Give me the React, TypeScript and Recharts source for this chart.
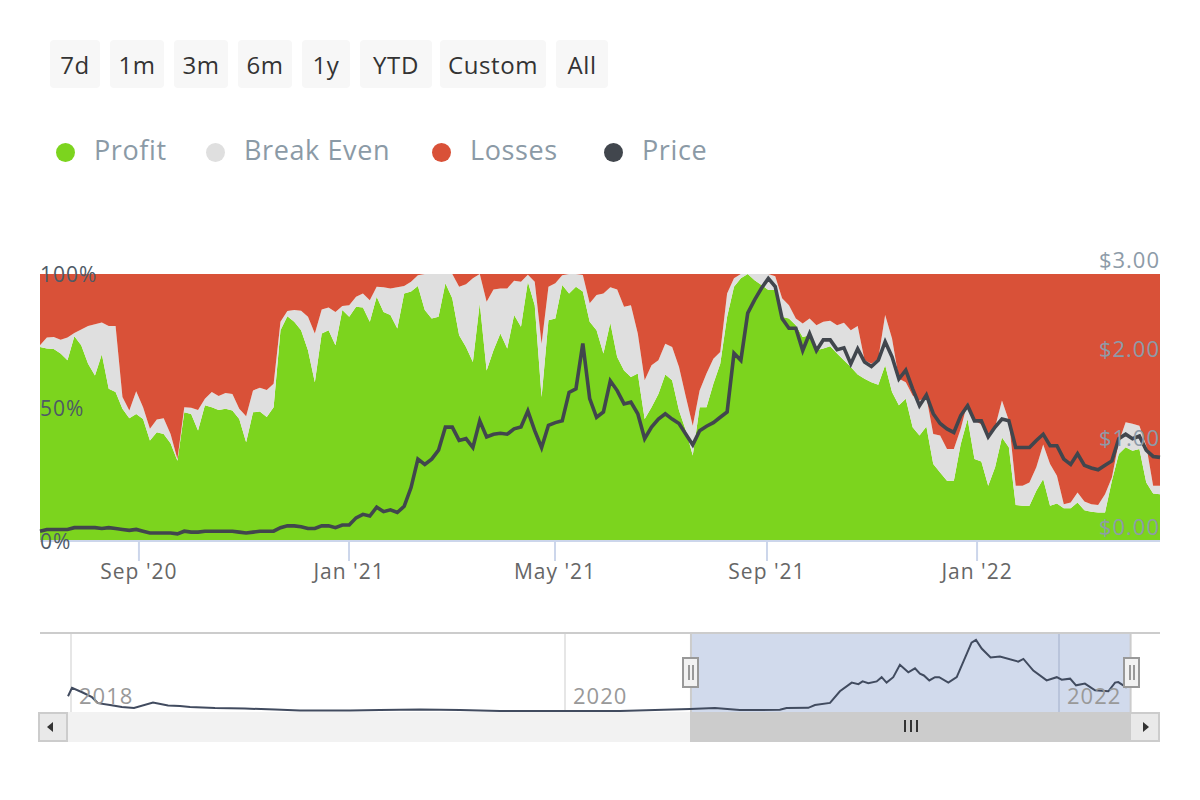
import { Area, ComposedChart, Line, LineChart, ReferenceArea, ReferenceLine, XAxis, YAxis } from "recharts";

const FONT = '"Open Sans", sans-serif';

const rangeButtons = ["7d", "1m", "3m", "6m", "1y", "YTD", "Custom", "All"];
const legendItems = ["Profit", "Break Even", "Losses", "Price"];
const legendColors = ["#7cd41e", "#dfdfdf", "#d95138", "#41464d"];

// one reading every 4 days, starting early July 2020
const profit = [
  72.7, 72.1, 71.9, 70.2, 67.7, 76.7, 73.3, 66.4, 62.0, 69.9, 57.0, 55.8, 49.5, 46.0, 47.6, 45.7, 37.6, 40.7, 40.1, 36.6,
  30.1, 48.2, 47.6, 41.4, 50.8, 50.1, 49.1, 49.5, 48.9, 45.7, 37.0, 48.2, 48.5, 46.4, 50.1, 78.9, 84.2, 82.1, 78.9, 71.4,
  59.5, 77.7, 78.9, 73.3, 86.5, 84.0, 87.7, 87.5, 82.1, 91.5, 85.8, 84.6, 79.6, 92.7, 93.4, 95.5, 86.5, 83.3, 84.0, 96.5,
  90.9, 77.1, 72.7, 67.0, 89.0, 63.9, 71.4, 77.7, 72.1, 84.6, 80.2, 97.1, 88.3, 53.9, 82.7, 83.3, 95.9, 92.7, 95.2, 93.4,
  82.1, 78.9, 70.2, 81.7, 68.9, 63.9, 61.4, 62.7, 45.7, 50.1, 55.1, 62.4, 60.2, 48.9, 41.4, 32.0, 50.1, 50.1, 58.9, 66.4,
  84.0, 95.2, 98.4, 100, 97.7, 95.9, 94.0, 94.0, 84.0, 83.3, 80.8, 76.4, 77.1, 71.4, 72.1, 72.9, 70.2, 67.7, 65.2, 62.4,
  60.8, 59.5, 58.5, 65.8, 55.8, 50.8, 53.3, 42.6, 39.5, 42.9, 28.8, 25.7, 22.6, 22.6, 36.3, 45.7, 30.7, 29.8, 20.7, 27.6,
  38.8, 35.1, 13.5, 13.2, 13.2, 18.8, 23.2, 13.2, 14.0, 12.3, 12.3, 14.4, 11.5, 11.0, 10.7, 10.7, 22.6, 32.6, 35.1, 33.8,
  34.5, 21.9, 17.8, 17.5,
];

// top edge of the grey band: profit + break even
const profitPlusEven = [
  73.3, 76.2, 76.4, 75.4, 76.2, 77.9, 79.2, 80.5, 81.2, 81.8, 80.5, 80.5, 53.9, 48.9, 56.1, 50.1, 42.0, 45.5, 46.0, 40.1,
  30.7, 50.1, 49.9, 49.1, 53.3, 55.8, 54.3, 55.4, 55.1, 49.5, 46.7, 56.4, 57.4, 56.6, 58.9, 82.1, 86.1, 86.5, 86.2, 84.0,
  77.7, 86.7, 87.5, 85.8, 88.0, 88.3, 91.5, 92.7, 90.2, 95.2, 95.0, 94.6, 95.0, 95.5, 97.1, 99.5, 100, 100, 100, 100,
  100, 95.2, 96.2, 98.4, 100, 89.6, 94.2, 94.6, 94.6, 97.5, 97.1, 99.7, 97.1, 73.9, 95.2, 96.5, 99.5, 100, 100, 99.6,
  89.0, 92.1, 92.7, 95.0, 94.2, 87.7, 88.3, 77.7, 60.2, 65.8, 67.7, 73.9, 72.7, 65.2, 53.9, 43.2, 56.4, 62.7, 68.3, 70.8,
  92.7, 98.4, 100, 100, 100, 100, 100, 99.2, 90.9, 88.3, 83.3, 81.5, 83.3, 80.8, 82.1, 82.5, 80.8, 81.7, 78.9, 80.5,
  67.7, 66.4, 68.3, 84.6, 75.8, 60.8, 59.5, 54.5, 52.6, 53.9, 40.1, 39.5, 34.5, 34.5, 42.0, 52.0, 45.1, 43.6, 40.4, 42.6,
  52.6, 45.1, 20.7, 20.7, 21.9, 27.6, 36.1, 28.8, 24.4, 13.8, 14.4, 18.2, 14.8, 13.8, 13.5, 17.5, 23.8, 37.0, 44.5, 43.9,
  43.2, 35.7, 20.7, 20.7,
];

const price = [
  0.11, 0.13, 0.13, 0.13, 0.13, 0.15, 0.15, 0.15, 0.15, 0.14, 0.15, 0.14, 0.13, 0.12, 0.13, 0.11, 0.09, 0.09, 0.09, 0.09,
  0.08, 0.11, 0.1, 0.1, 0.11, 0.11, 0.11, 0.11, 0.11, 0.1, 0.09, 0.1, 0.11, 0.11, 0.11, 0.15, 0.17, 0.17, 0.16, 0.14,
  0.14, 0.17, 0.17, 0.15, 0.18, 0.18, 0.26, 0.3, 0.28, 0.38, 0.33, 0.35, 0.32, 0.39, 0.6, 0.92, 0.86, 0.92, 1.02, 1.28,
  1.28, 1.13, 1.15, 1.05, 1.35, 1.17, 1.2, 1.21, 1.2, 1.26, 1.28, 1.46, 1.24, 1.05, 1.3, 1.33, 1.35, 1.67, 1.71, 2.22,
  1.6, 1.39, 1.45, 1.8, 1.69, 1.54, 1.56, 1.43, 1.15, 1.28, 1.37, 1.43, 1.37, 1.32, 1.2, 1.08, 1.24, 1.29, 1.33, 1.39,
  1.45, 2.11, 2.03, 2.56, 2.71, 2.84, 2.95, 2.86, 2.5, 2.39, 2.39, 2.14, 2.33, 2.14, 2.26, 2.26, 2.15, 2.17, 1.99, 2.16,
  2.01, 1.96, 2.03, 2.24, 2.07, 1.82, 1.92, 1.71, 1.52, 1.64, 1.43, 1.32, 1.26, 1.22, 1.41, 1.52, 1.35, 1.35, 1.17, 1.28,
  1.37, 1.35, 1.05, 1.05, 1.05, 1.13, 1.2, 1.07, 1.07, 0.92, 0.86, 0.98, 0.85, 0.82, 0.8, 0.85, 0.9, 1.15, 1.2, 1.15,
  1.18, 1.02, 0.95, 0.94,
];

const dayTicks = [57.6, 179.9, 299.8, 423.2, 545.5];
const dayTickLabels = ["Sep '20", "Jan '21", "May '21", "Sep '21", "Jan '22"];

// navigator: whole price history
const navYears = [
  2017.988, 2018.004, 2018.045, 2018.085, 2018.109, 2018.158, 2018.206, 2018.255, 2018.332, 2018.393, 2018.441, 2018.482,
  2018.583, 2018.704, 2018.826, 2018.927, 2019.13, 2019.251, 2019.413, 2019.575, 2019.737, 2019.98, 2020.223, 2020.506,
  2020.607, 2020.708, 2020.87, 2020.897, 2020.985, 2021.012, 2021.073, 2021.113, 2021.161, 2021.188, 2021.205, 2021.228,
  2021.262, 2021.282, 2021.302, 2021.329, 2021.356, 2021.39, 2021.417, 2021.437, 2021.453, 2021.475, 2021.498, 2021.515,
  2021.552, 2021.586, 2021.646, 2021.664, 2021.687, 2021.723, 2021.761, 2021.835, 2021.856, 2021.896, 2021.95, 2021.991,
  2022.011, 2022.045, 2022.069, 2022.105, 2022.146, 2022.2, 2022.227, 2022.24, 2022.274,
];
const navPrices = [
  0.64, 0.98, 0.8, 0.6, 0.36, 0.28, 0.2, 0.16, 0.38, 0.26, 0.24, 0.2, 0.16, 0.14, 0.1, 0.06, 0.06, 0.08, 0.1, 0.08, 0.04,
  0.04, 0.04, 0.12, 0.16, 0.08, 0.09, 0.16, 0.17, 0.28, 0.37, 0.84, 1.19, 1.13, 1.24, 1.17, 1.24, 1.41, 1.19, 1.41, 1.91,
  1.61, 1.77, 1.55, 1.48, 1.28, 1.41, 1.41, 1.19, 1.41, 2.81, 2.92, 2.57, 2.21, 2.25, 2.04, 2.15, 1.68, 1.28, 1.41, 1.31,
  1.35, 1.08, 1.15, 0.88, 0.84, 1.19, 1.21, 0.99,
];
const navYearTicks = [2018, 2020, 2022];

const mainData = profit.map((p, i) => ({
  day: i * 4,
  profit: p,
  breakEven: profitPlusEven[i] - p,
  losses: 100 - profitPlusEven[i],
  price: price[i],
}));
const navData = navYears.map((year, i) => ({ year, price: navPrices[i] }));

const PctTick = ({ x, y, payload }: any) => (
  <text x={x - 8} y={y} dy={8} textAnchor="start" fontSize={21} letterSpacing={1} fontFamily={FONT} fill="#4e5a66">
    {payload.value}%
  </text>
);
const UsdTick = ({ x, y, payload }: any) => (
  <text x={x + 8} y={y} dy={-6} textAnchor="end" fontSize={22} letterSpacing={1} fontFamily={FONT} fill="#8d9ba8">
    ${payload.value.toFixed(2)}
  </text>
);
const DayTick = ({ x, y, index }: any) => (
  <text x={x} y={y} dy={16} textAnchor="middle" fontSize={21} letterSpacing={1} fontFamily={FONT} fill="#666666">
    {dayTickLabels[index]}
  </text>
);

const box = (left: number, top: number, width: number, height: number, rest: any = {}) => ({
  position: "absolute" as const,
  left,
  top,
  width,
  height,
  boxSizing: "border-box" as const,
  ...rest,
});

const buttonBoxes = [
  [50, 50], [110, 54], [174, 54], [238, 54], [302, 48], [360, 72], [440, 106], [556, 52],
];
const legendBoxes = [65, 215, 441, 613];

function Handle({ left }: { left: number }) {
  return (
    <div style={box(left, 657, 17, 31, { background: "#f2f2f2", border: "2px solid #999" })}>
      <div style={box(4, 6, 2, 15, { background: "#999" })} />
      <div style={box(8, 6, 2, 15, { background: "#999" })} />
    </div>
  );
}

export default function App() {
  return (
    <div style={{ position: "absolute", left: 0, top: 0, width: 1200, height: 800, background: "#fff", fontFamily: FONT }}>
      {rangeButtons.map((b, i) => (
        <div
          key={b}
          style={box(buttonBoxes[i][0], 40, buttonBoxes[i][1], 48, {
            background: "#f7f7f7",
            borderRadius: 4,
            color: "#333",
            fontSize: 24,
            letterSpacing: 0.6,
            lineHeight: "50px",
            textAlign: "center",
          })}
        >
          {b}
        </div>
      ))}
      {legendItems.map((name, i) => (
        <div key={name}>
          <div style={box(legendBoxes[i] - 9, 143, 19, 19, { borderRadius: "50%", background: legendColors[i] })} />
          <div style={box(legendBoxes[i] + 29, 130, 200, 40, { color: "#8b9aa6", fontSize: 27, letterSpacing: 0.6, lineHeight: "40px" })}>{name}</div>
        </div>
      ))}

      <div style={box(0, 0, 1200, 600)}>
        <ComposedChart width={1200} height={600} data={mainData} margin={{ top: 274, right: 40, bottom: 9, left: 40 }}>
          <XAxis
            xAxisId="d"
            dataKey="day"
            type="number"
            domain={[0, 652]}
            ticks={dayTicks}
            tick={<DayTick />}
            tickSize={20}
            height={50}
            interval={0}
            stroke="#ccd6eb"
            strokeWidth={2}
          />
          <YAxis yAxisId="pct" domain={[0, 100]} ticks={[0, 50, 100]} mirror tick={<PctTick />} axisLine={false} tickLine={false} />
          <YAxis yAxisId="usd" orientation="right" domain={[0, 3]} ticks={[0, 1, 2, 3]} mirror tick={<UsdTick />} axisLine={false} tickLine={false} />
          <Area xAxisId="d" yAxisId="pct" stackId="a" dataKey="profit" name="Profit" stroke="none" fill="#7cd41e" fillOpacity={1} isAnimationActive={false} />
          <Area xAxisId="d" yAxisId="pct" stackId="a" dataKey="breakEven" name="Break Even" stroke="none" fill="#dfdfdf" fillOpacity={1} isAnimationActive={false} />
          <Area xAxisId="d" yAxisId="pct" stackId="a" dataKey="losses" name="Losses" stroke="none" fill="#d95138" fillOpacity={1} isAnimationActive={false} />
          <Line xAxisId="d" yAxisId="usd" dataKey="price" name="Price" stroke="#41464d" strokeWidth={3.6} dot={false} isAnimationActive={false} />
        </ComposedChart>
      </div>

      <div style={box(40, 632, 1120, 2, { background: "#cccccc" })} />
      <div style={box(0, 620, 1200, 100)}>
        <LineChart width={1200} height={100} data={navData} margin={{ top: 14, right: 40, bottom: 8, left: 40 }}>
          <XAxis dataKey="year" type="number" domain={[2017.8745, 2022.409]} tick={false} axisLine={false} tickLine={false} height={0} allowDataOverflow />
          <YAxis domain={[0, 3.16]} hide />
          <ReferenceArea x1={2020.51} x2={2022.29} fill="#d1daec" fillOpacity={1} stroke="none" />
          {navYearTicks.map((t) => (
            <ReferenceLine
              key={t}
              x={t}
              stroke={t === 2022 ? "#b9c4db" : "#e6e6e6"}
              strokeWidth={2}
              label={{ value: String(t), position: "insideBottomLeft", offset: 8, fontSize: 22, letterSpacing: 1, fontFamily: FONT, fill: "#999999" }}
            />
          ))}
          <ReferenceLine x={2020.51} stroke="#cccccc" strokeWidth={2} />
          <ReferenceLine x={2022.29} stroke="#cccccc" strokeWidth={2} />
          <Line dataKey="price" stroke="#414b5f" strokeWidth={2} dot={false} isAnimationActive={false} />
        </LineChart>
      </div>
      <Handle left={682} />
      <Handle left={1123} />

      <div style={box(39, 712, 1121, 30, { background: "#f2f2f2" })} />
      <div style={box(690, 712, 441, 30, { background: "#cccccc" })} />
      {[904, 910, 916].map((l) => (
        <div key={l} style={box(l, 720, 2, 12, { background: "#333" })} />
      ))}
      <div style={box(38, 712, 30, 30, { background: "#e9e9e9", border: "2px solid #cccccc" })}>
        <div style={box(7, 8, 0, 0, { borderTop: "5px solid transparent", borderBottom: "5px solid transparent", borderRight: "6px solid #333" })} />
      </div>
      <div style={box(1131, 712, 29, 30, { background: "#e9e9e9", border: "2px solid #cccccc", borderLeft: "none" })}>
        <div style={box(12, 8, 0, 0, { borderTop: "5px solid transparent", borderBottom: "5px solid transparent", borderLeft: "6px solid #333" })} />
      </div>
    </div>
  );
}
